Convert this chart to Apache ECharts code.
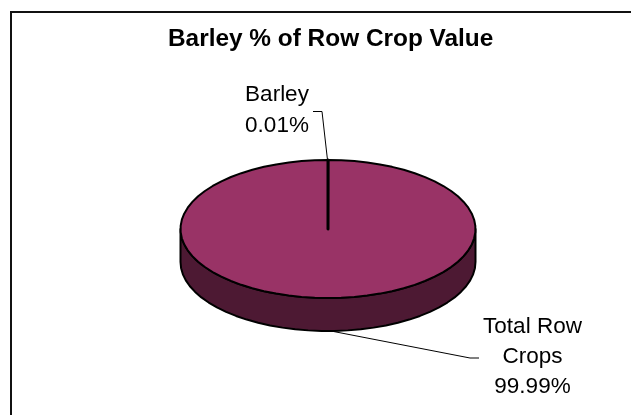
<!DOCTYPE html>
<html><head><meta charset="utf-8">
<style>html,body{margin:0;padding:0;background:#fff}#c{width:631px;height:415px}</style>
<script src="https://cdn.jsdelivr.net/npm/echarts@6/dist/echarts.min.js"></script>
</head><body><div id="c"></div>
<script>
const chartTitle = "Barley % of Row Crop Value";
const sliceNames = ["Barley", "Total Row Crops"];
const sliceValues = [0.01, 99.99];
const sliceLabels = [["Barley", "0.01%"], ["Total Row", "Crops", "99.99%"]];
const topColors = ["#993366", "#993366"];
const wallColors = ["#4d1933", "#4d1933"];

const total = sliceValues.reduce((a, b) => a + b, 0);
const cx = 328, cy = 229, rx = 147.5, ry = 69, depth = 33;
const pt = (a, dy) => [cx + rx * Math.sin(a), cy - ry * Math.cos(a) + (dy || 0)];

function sectorPoints(a0, a1) {
  const pts = [[cx, cy]];
  const n = Math.max(1, Math.ceil((a1 - a0) / 0.09));
  for (let i = 0; i <= n; i++) pts.push(pt(a0 + (a1 - a0) * i / n));
  return pts;
}
function wallPoints(a0, a1) {
  const lo = Math.max(a0, Math.PI / 2), hi = Math.min(a1, Math.PI * 1.5);
  if (hi <= lo) return null;
  const n = Math.ceil((hi - lo) / 0.09), top = [], bot = [];
  for (let i = 0; i <= n; i++) {
    const a = lo + (hi - lo) * i / n;
    top.push(pt(a)); bot.unshift(pt(a, depth));
  }
  return top.concat(bot);
}
const leaders = [
  [[313, 111.5], [322, 111.5], [327.5, 160]],
  [[331, 331], [470, 358], [479, 358]]
];
const labelPos = [[277, 95, 30.5], [532.5, 326.5, 30.3]];

const chart = echarts.init(document.getElementById('c'), null, {renderer: 'canvas'});
chart.setOption({
  animation: false,
  backgroundColor: '#fff',
  title: {
    text: chartTitle, left: 168, top: 27, padding: 0,
    textStyle: {fontFamily: 'Liberation Sans', fontWeight: 'bold', fontSize: 24.4, color: '#000'}
  },
  graphic: [{
    type: 'rect', silent: true, z: 0,
    shape: {x: 11, y: 12, width: 640, height: 440},
    style: {fill: '#fff', stroke: '#111', lineWidth: 2}
  }],
  series: [{
    type: 'custom', coordinateSystem: 'none', z: 2,
    data: sliceValues.map((v, i) => ({name: sliceNames[i], value: [v, i]})),
    renderItem(params, api) {
      const i = api.value(1);
      const start = sliceValues.slice(0, i).reduce((a, b) => a + b, 0);
      const a0 = start / total * Math.PI * 2;
      const a1 = (start + api.value(0)) / total * Math.PI * 2;
      const children = [];
      const wall = wallPoints(a0, a1);
      if (wall) children.push({type: 'polygon', z2: 1, shape: {points: wall},
        style: {fill: wallColors[i], stroke: '#000', lineWidth: 2, lineJoin: 'round'}});
      children.push({type: 'polygon', z2: i === 0 ? 5 : 2, shape: {points: sectorPoints(a0, a1)},
        style: {fill: topColors[i], stroke: '#000', lineWidth: i === 0 ? 3 : 2, lineJoin: 'round'}});
      children.push({type: 'polyline', z2: 3, shape: {points: leaders[i]},
        style: {fill: null, stroke: '#000', lineWidth: 1}});
      sliceLabels[i].forEach((t, k) => children.push({type: 'text', z2: 6,
        style: {text: t, x: labelPos[i][0], y: labelPos[i][1] + k * labelPos[i][2],
          align: 'center', verticalAlign: 'middle', fill: '#000',
          font: '22.5px "Liberation Sans"'}}));
      return {type: 'group', children};
    }
  }]
});
</script></body></html>
